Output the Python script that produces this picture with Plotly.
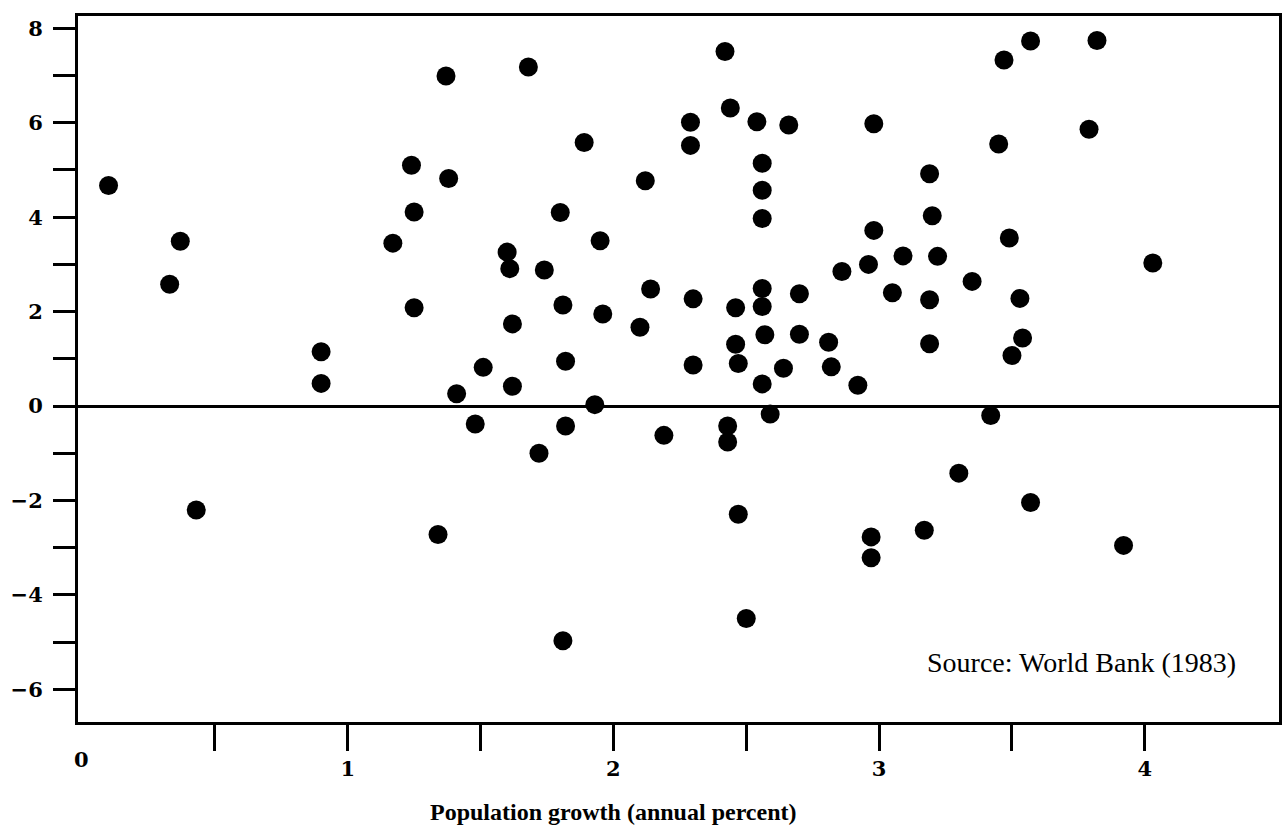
import plotly.graph_objects as go

# Population growth (annual percent) vs. growth rate (percent)
pop_growth = [
    0.10, 0.37, 0.33, 0.43, 0.90, 0.90, 1.17, 1.24, 1.25, 1.25,
    1.37, 1.38, 1.34, 1.41, 1.48, 1.51, 1.60, 1.61, 1.62, 1.62,
    1.68, 1.74, 1.72, 1.80, 1.81, 1.82, 1.82, 1.81, 1.89, 1.95,
    1.96, 1.93, 2.12, 2.10, 2.14, 2.19, 2.29, 2.29, 2.30, 2.30,
    2.42, 2.44, 2.43, 2.43, 2.46, 2.46, 2.47, 2.47, 2.50, 2.54,
    2.56, 2.56, 2.56, 2.56, 2.56, 2.57, 2.56, 2.59, 2.64, 2.66,
    2.70, 2.70, 2.81, 2.82, 2.86, 2.92, 2.96, 2.98, 2.98, 2.97,
    2.97, 3.05, 3.09, 3.19, 3.19, 3.19, 3.20, 3.22, 3.30, 3.35,
    3.42, 3.45, 3.47, 3.17, 3.49, 3.50, 3.53, 3.54, 3.57, 3.57,
    3.79, 3.82, 3.92, 4.03,
]
growth = [
    4.67, 3.49, 2.58, -2.20, 1.15, 0.48, 3.45, 5.10, 4.11, 2.08,
    6.99, 4.82, -2.72, 0.26, -0.38, 0.82, 3.26, 2.91, 1.74, 0.42,
    7.18, 2.88, -1.00, 4.10, 2.14, 0.95, -0.42, -4.97, 5.58, 3.50,
    1.95, 0.03, 4.77, 1.67, 2.48, -0.62, 6.01, 5.52, 2.27, 0.87,
    7.51, 6.31, -0.42, -0.76, 2.08, 1.31, 0.90, -2.29, -4.50, 6.02,
    5.14, 4.57, 3.97, 2.49, 2.11, 1.51, 0.47, -0.17, 0.80, 5.95,
    2.38, 1.52, 1.35, 0.83, 2.85, 0.44, 3.00, 3.72, 5.98, -2.77,
    -3.21, 2.40, 3.18, 4.92, 2.25, 1.32, 4.03, 3.17, -1.42, 2.64,
    -0.20, 5.55, 7.33, -2.63, 3.56, 1.07, 2.28, 1.44, 7.73, -2.04,
    5.86, 7.74, -2.95, 3.03,
]

y_tickvals = [-6, -5, -4, -3, -2, -1, 0, 1, 2, 3, 4, 5, 6, 7, 8]
y_ticktext = ["\u22126", "", "\u22124", "", "\u22122", "", "0", "", "2", "", "4", "", "6", "", "8"]
x_tickvals = [0.5, 1, 1.5, 2, 2.5, 3, 3.5, 4]
x_ticktext = ["", "1", "", "2", "", "3", "", "4"]

x_title = "Population growth (annual percent)"
source_note = "Source: World Bank (1983)"

num_font = dict(family="DejaVu Serif", size=21, color="black", weight="bold")

fig = go.Figure(
    go.Scatter(
        x=pop_growth,
        y=growth,
        mode="markers",
        marker=dict(size=19, color="black", line=dict(width=0)),
        hoverinfo="x+y",
    )
)

fig.update_layout(
    width=1287,
    height=832,
    margin=dict(l=78, r=5, t=16, b=110),
    paper_bgcolor="white",
    plot_bgcolor="white",
    showlegend=False,
    xaxis=dict(
        range=[-0.015, 4.505],
        tickmode="array",
        tickvals=x_tickvals,
        ticktext=x_ticktext,
        ticks="outside",
        ticklen=26,
        tickwidth=3,
        tickcolor="black",
        tickfont=num_font,
        showline=True,
        linewidth=3,
        linecolor="black",
        mirror=True,
        showgrid=False,
        zeroline=False,
    ),
    yaxis=dict(
        range=[-6.69, 8.26],
        tickmode="array",
        tickvals=y_tickvals,
        ticktext=y_ticktext,
        ticks="outside",
        ticklen=22,
        tickwidth=3,
        tickcolor="black",
        tickfont=num_font,
        ticklabelstandoff=6,
        showline=True,
        linewidth=3,
        linecolor="black",
        mirror=True,
        showgrid=False,
        zeroline=True,
        zerolinecolor="black",
        zerolinewidth=3,
    ),
    annotations=[
        dict(
            text="0", x=0, xref="x", y=-0.053, yref="paper",
            xanchor="center", yanchor="middle", showarrow=False,
            font=num_font,
        ),
        dict(
            text=x_title, x=2.0, xref="x", y=-0.1275, yref="paper",
            xanchor="center", yanchor="middle", showarrow=False,
            font=dict(family="Liberation Serif", size=24, color="black", weight="bold"),
        ),
        dict(
            text=source_note, x=4.35, xref="x", y=-5.44, yref="y",
            xanchor="right", yanchor="middle", showarrow=False,
            font=dict(family="Liberation Serif", size=28, color="black"),
        ),
    ],
)

fig.write_html("out.html")
